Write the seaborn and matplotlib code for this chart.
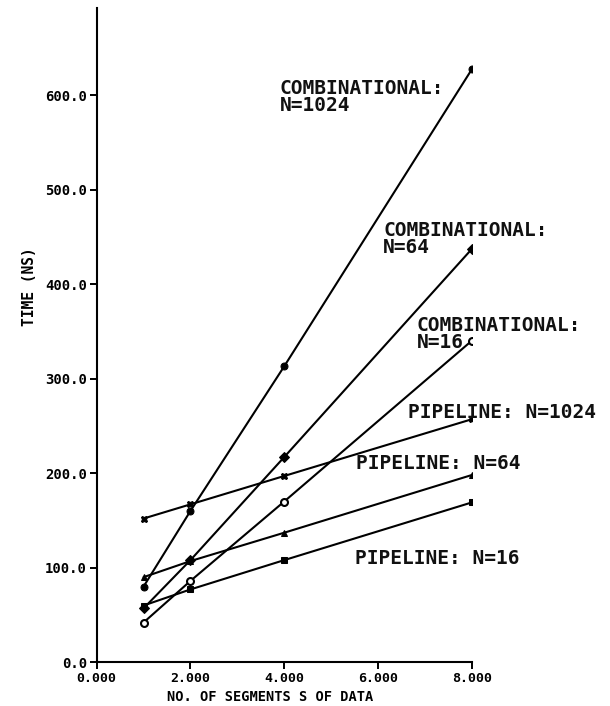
import matplotlib
matplotlib.use("Agg")
import matplotlib.pyplot as plt
import seaborn as sns
import pandas as pd

segments = [1, 2, 4, 8]
comb_1024 = [80, 160, 313, 627]
comb_64 = [57, 108, 217, 437]
comb_16 = [42, 86, 170, 340]
pipe_1024 = [152, 167, 197, 257]
pipe_64 = [90, 107, 137, 198]
pipe_16 = [60, 77, 108, 169]

series_names = ["COMBINATIONAL: N=1024", "COMBINATIONAL: N=64", "COMBINATIONAL: N=16",
                "PIPELINE: N=1024", "PIPELINE: N=64", "PIPELINE: N=16"]
series_values = [comb_1024, comb_64, comb_16, pipe_1024, pipe_64, pipe_16]

x_ticks = [0, 2, 4, 6, 8]
x_tick_labels = ["0.000", "2.000", "4.000", "6.000", "8.000"]
y_ticks = [0, 100, 200, 300, 400, 500, 600]
y_tick_labels = ["0.0", "100.0", "200.0", "300.0", "400.0", "500.0", "600.0"]

labels_text = ["COMBINATIONAL:\nN=1024", "COMBINATIONAL:\nN=64", "COMBINATIONAL:\nN=16",
               "PIPELINE: N=1024", "PIPELINE: N=64", "PIPELINE: N=16"]
label_pos = [(3.9, 617), (6.11, 467), (6.82, 366), (6.65, 264), (5.54, 210), (5.52, 110)]

rows = []
for name, vals in zip(series_names, series_values):
    for s, v in zip(segments, vals):
        rows.append({"series": name, "segments": s, "time": v})
df = pd.DataFrame(rows)

sns.set_style("ticks")
plt.rcParams['font.family'] = ['DejaVu Sans Mono', 'DejaVu Sans']
plt.rcParams['text.color'] = 'black'
plt.rcParams['axes.labelcolor'] = 'black'
plt.rcParams['xtick.color'] = 'black'
plt.rcParams['ytick.color'] = 'black'

fig = plt.figure(figsize=(6.10, 7.06), dpi=100)
ax = fig.add_axes([0.1585, 0.062, 0.6148, 0.9266])

markers = {"COMBINATIONAL: N=1024": "o", "COMBINATIONAL: N=64": "D", "COMBINATIONAL: N=16": "o",
           "PIPELINE: N=1024": "X", "PIPELINE: N=64": "^", "PIPELINE: N=16": "s"}
sns.lineplot(data=df, x="segments", y="time", hue="series", style="series",
             markers=markers, dashes=False, palette=["black"] * 6, legend=False,
             linewidth=1.5, markersize=5, markeredgecolor="black", ax=ax)
for line, name in zip(ax.lines, series_names):
    if name == "COMBINATIONAL: N=16":
        line.set_markerfacecolor("white")
        line.set_markeredgewidth(1.5)

for txt, (tx, ty) in zip(labels_text, label_pos):
    va = "top" if "\n" in txt else "center"
    ax.text(tx, ty, txt, fontsize=14, fontweight="bold", ha="left", va=va,
            linespacing=0.85, color="#111111")

ax.set_xlim(0, 8)
ax.set_ylim(0, 692)
ax.set_xticks(x_ticks)
ax.set_xticklabels(x_tick_labels, fontsize=9.5, fontweight="bold")
ax.set_yticks(y_ticks)
ax.set_yticklabels(y_tick_labels, fontsize=10, fontweight="bold")
ax.tick_params(direction="out", length=5, width=1.4, color="black", pad=2)
sns.despine(ax=ax)
for sp in ["left", "bottom"]:
    ax.spines[sp].set_linewidth(1.5)
    ax.spines[sp].set_color("black")

ax.set_xlabel("NO. OF SEGMENTS S OF DATA", fontsize=9.8, fontweight="bold")
ax.set_ylabel("TIME (NS)", fontsize=10.5, fontweight="bold")
ax.xaxis.set_label_coords(0.462, -0.043)
ax.yaxis.set_label_coords(-0.159, 0.574)

fig.savefig("out.png", dpi=100)
